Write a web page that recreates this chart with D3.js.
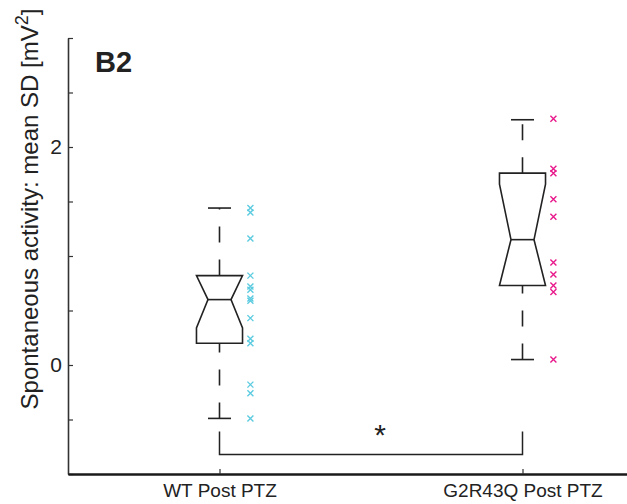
<!DOCTYPE html>
<html>
<head>
<meta charset="utf-8">
<script src="https://cdn.jsdelivr.net/npm/d3@7"></script>
<style>
  body { margin: 0; background: #fff; }
  svg { font-family: "Liberation Sans", Arial, sans-serif; }
</style>
</head>
<body>
<svg></svg>
<script>
// Groups and raw points
const categories = ["WT Post PTZ", "G2R43Q Post PTZ"];
const colors = ["#5ccbe0", "#e8198b"];
const wtPoints = [1.44, 1.40, 1.16, 0.82, 0.72, 0.69, 0.61, 0.59, 0.43, 0.24, 0.20, -0.18, -0.26, -0.49];
const g2rPoints = [2.26, 1.80, 1.76, 1.52, 1.36, 0.94, 0.83, 0.73, 0.67, 0.05];

// Box summaries (WT, G2R43Q)
const whiskerLow = [-0.49, 0.05];
const q1 = [0.20, 0.73];
const medians = [0.60, 1.15];
const q3 = [0.82, 1.76];
const whiskerHigh = [1.44, 2.25];
const notchLow = [0.34, 0.64];
const notchHigh = [0.86, 1.66];

const yTicks = [-1, -0.5, 0, 0.5, 1, 1.5, 2, 2.5, 3];
const yLabelled = [0, 2];

const width = 627;
const height = 504;

const svg = d3.select("svg")
  .attr("width", width)
  .attr("height", height);

// Scales (x in group index units, like xlim [0.5 2.5])
const x = d3.scaleLinear().domain([0.5, 2.5]).range([68, 674]);
const y = d3.scaleLinear().domain([-1, 3]).range([474, 38]);

const boxHalf = 0.076;
const notchHalf = 0.038;
const capHalf = 0.038;
const pointOffset = 0.102;

// Y axis
const yAxis = d3.axisLeft(y)
  .tickValues(yTicks)
  .tickSizeInner(-5)
  .tickSizeOuter(0)
  .tickPadding(6)
  .tickFormat(d => yLabelled.includes(d) ? d3.format("d")(d) : "");

const gy = svg.append("g")
  .attr("transform", "translate(68,0)")
  .call(yAxis);
gy.select(".domain").attr("stroke", "#333").attr("stroke-width", 1.6);
gy.selectAll(".tick line").attr("stroke", "#333").attr("stroke-width", 1.2);
gy.selectAll(".tick text").attr("font-size", 21).attr("fill", "#222").attr("font-family", "Liberation Sans, Arial, sans-serif");

// X axis
const xAxis = d3.axisBottom(x)
  .tickValues([1, 2])
  .tickSizeInner(-5)
  .tickSizeOuter(0)
  .tickPadding(10)
  .tickFormat((d, i) => categories[i]);

const gx = svg.append("g")
  .attr("transform", "translate(0,474)")
  .call(xAxis);
gx.select(".domain").attr("stroke", "#1a1a1a").attr("stroke-width", 2.6);
gx.selectAll(".tick line").attr("stroke", "#333").attr("stroke-width", 1.2);
gx.selectAll(".tick text").attr("font-size", 19).attr("fill", "#222").attr("font-family", "Liberation Sans, Arial, sans-serif");

// Y label
const yLabel = svg.append("text")
  .attr("transform", "translate(38,209) rotate(-90)")
  .attr("text-anchor", "middle")
  .attr("font-size", 24)
  .attr("fill", "#222");
yLabel.append("tspan").text("Spontaneous activity: mean SD [mV");
yLabel.append("tspan").attr("font-size", 18).attr("dy", -10).text("2");
yLabel.append("tspan").attr("dy", 10).text("]");

// Panel tag
svg.append("text")
  .attr("x", 95)
  .attr("y", 72)
  .attr("font-size", 29)
  .attr("font-weight", "bold")
  .attr("fill", "#222")
  .text("B2");

// Boxes
const groups = categories.map((c, i) => ({
  pos: i + 1,
  lo: whiskerLow[i], q1: q1[i], med: medians[i], q3: q3[i], hi: whiskerHigh[i],
  nLo: Math.max(notchLow[i], q1[i]), nHi: Math.min(notchHigh[i], q3[i])
}));

const line = d3.line().x(d => x(d[0])).y(d => y(d[1]));

const box = svg.append("g").attr("fill", "none").attr("stroke", "#222").attr("stroke-width", 1.6);

groups.forEach(g => {
  const p = g.pos;
  box.append("path")
    .attr("d", line([
      [p - boxHalf, g.q1], [p - boxHalf, g.nLo], [p - notchHalf, g.med], [p - boxHalf, g.nHi],
      [p - boxHalf, g.q3], [p + boxHalf, g.q3], [p + boxHalf, g.nHi], [p + notchHalf, g.med],
      [p + boxHalf, g.nLo], [p + boxHalf, g.q1]
    ]) + "Z");
  box.append("path").attr("d", line([[p - notchHalf, g.med], [p + notchHalf, g.med]]));
  // whiskers, dashed, drawn from low value up
  box.append("path").attr("stroke-dasharray", "16,17").attr("d", line([[p, g.q3], [p, g.hi]]));
  box.append("path").attr("stroke-dasharray", "16,17").attr("d", line([[p, g.lo], [p, g.q1]]));
  box.append("path").attr("d", line([[p - capHalf, g.hi], [p + capHalf, g.hi]]));
  box.append("path").attr("d", line([[p - capHalf, g.lo], [p + capHalf, g.lo]]));
});

// Points as x markers
const pointSets = [wtPoints, g2rPoints];
pointSets.forEach((pts, i) => {
  svg.append("g")
    .selectAll("path")
    .data(pts)
    .enter()
    .append("path")
    .attr("transform", d => `translate(${x(i + 1 + pointOffset)},${y(d)})`)
    .attr("d", "M-3,-3L3,3M-3,3L3,-3")
    .attr("stroke", colors[i])
    .attr("stroke-width", 1.4)
    .attr("fill", "none");
});

// Significance bracket
const bracketY = -0.82;
const bracketTop = -0.61;
svg.append("path")
  .attr("d", line([[1, bracketTop], [1, bracketY], [2, bracketY], [2, bracketTop]]))
  .attr("fill", "none")
  .attr("stroke", "#222")
  .attr("stroke-width", 1.5);

svg.append("text")
  .attr("x", x(1.53))
  .attr("y", y(-0.57) + 18)
  .attr("text-anchor", "middle")
  .attr("font-size", 30)
  .attr("fill", "#222")
  .text("*");
</script>
</body>
</html>
